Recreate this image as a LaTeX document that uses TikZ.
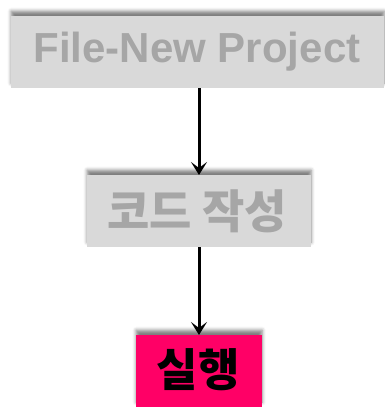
\documentclass[tikz,border=0pt]{standalone}
\usepackage{fontspec}
\setmainfont{Liberation Sans}
\newfontfamily\krfont{Noto Sans CJK KR}
\usetikzlibrary{arrows.meta,shadows.blur}
\definecolor{boxgray}{HTML}{D9D9D9}
\definecolor{textgray}{HTML}{A6A6A6}
\definecolor{runpink}{HTML}{FF0066}
\tikzset{
  stepbox/.style={draw=none, inner sep=0pt, anchor=north west,
    blur shadow={shadow xshift=0pt, shadow yshift=5pt, shadow scale=1,
      shadow blur radius=3.5pt, shadow opacity=50}},
  flow/.style={line width=3pt, -{Stealth[length=13pt,width=16pt,inset=6pt]}}
}
\begin{document}
\begin{tikzpicture}[x=1pt,y=-1pt]
  \useasboundingbox (0,0) rectangle (384,407);
  % process boxes
  \node[stepbox, fill=boxgray, minimum width=373pt, minimum height=72pt] (proj) at (11,16) {};
  \node[stepbox, fill=boxgray, minimum width=224pt, minimum height=72pt] (code) at (87,175) {};
  \node[stepbox, fill=runpink, minimum width=126pt, minimum height=72pt] (run) at (136,335) {};
  % labels
  \node[textgray, font=\fontsize{42}{42}\bfseries] (projtxt) at (197,52) {File-New Project};
  \node[textgray, font=\fontsize{46}{46}\krfont\bfseries] (codetxt) at (197,211) {코드 작성};
  \node[black, font=\fontsize{45}{45}\krfont\bfseries] (runtxt) at (198,370) {실행};
  % connectors
  \draw[flow] (proj.south -| 199,0) -- (code.north -| 199,0);
  \draw[flow] (code.south -| 199,0) -- (run.north -| 199,0);
\end{tikzpicture}
\end{document}
